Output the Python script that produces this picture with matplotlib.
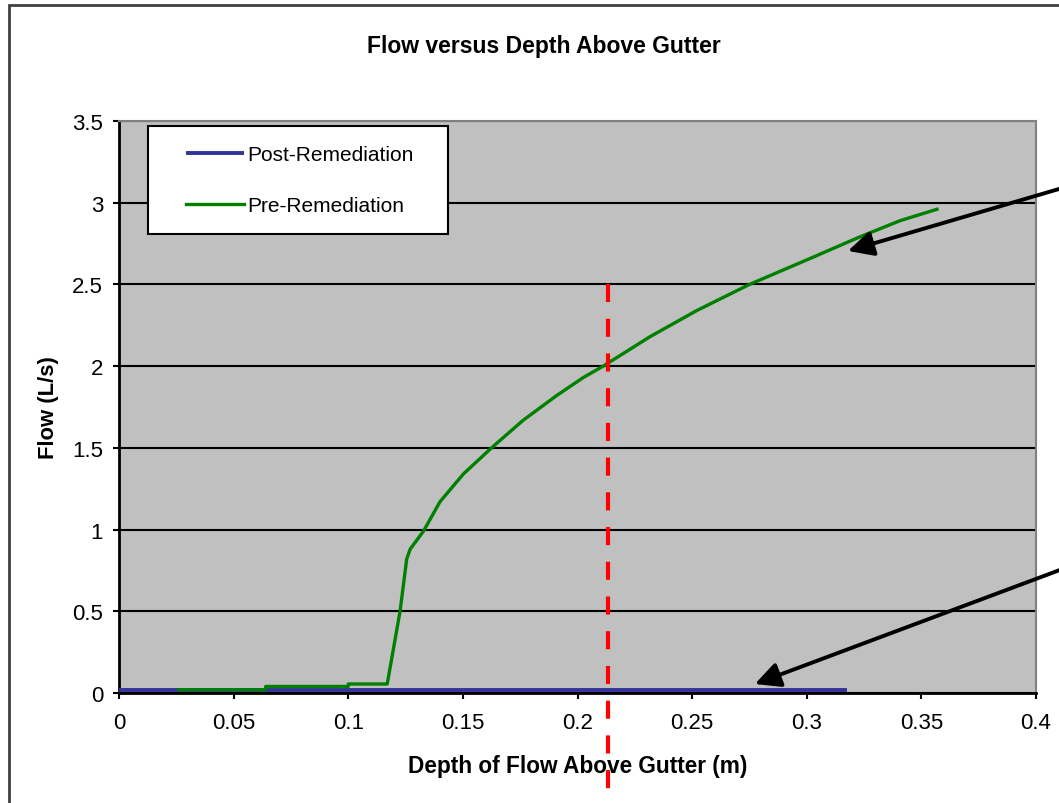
import numpy as np
import matplotlib
matplotlib.use("Agg")
import matplotlib.pyplot as plt
from matplotlib.patches import Rectangle
from matplotlib.legend_handler import HandlerLine2D

plt.rcParams['font.family'] = ['Liberation Sans', 'DejaVu Sans']
plt.rcParams['lines.scale_dashes'] = False

# data
post_depth = [0.0, 0.1, 0.2, 0.3176]
post_flow = [0.02, 0.02, 0.02, 0.02]

pre_depth = [0.026, 0.064, 0.064, 0.100, 0.100, 0.117, 0.1226, 0.1255, 0.127,
             0.1328, 0.140, 0.1502, 0.1633, 0.1764, 0.1909, 0.2025, 0.2112,
             0.2316, 0.252, 0.275, 0.300, 0.323, 0.3407, 0.3568]
pre_flow = [0.02, 0.02, 0.04, 0.04, 0.055, 0.055, 0.50, 0.82, 0.88,
            0.99, 1.17, 1.34, 1.51, 1.67, 1.82, 1.93, 2.00,
            2.18, 2.34, 2.50, 2.65, 2.79, 2.89, 2.96]

critical_depth = 0.2133
x_ticks = [0, 0.05, 0.1, 0.15, 0.2, 0.25, 0.3, 0.35, 0.4]
x_ticklabels = ['0', '0.05', '0.1', '0.15', '0.2', '0.25', '0.3', '0.35', '0.4']
y_ticks = [0, 0.5, 1, 1.5, 2, 2.5, 3, 3.5]
y_ticklabels = ['0', '0.5', '1', '1.5', '2', '2.5', '3', '3.5']

# arrows: (tip, tail) in data units
arrow_pre = ((0.318, 2.705), (0.428, 3.158))
arrow_post = ((0.2774, 0.055), (0.428, 0.845))


class ShiftedLine(HandlerLine2D):
    # legend line starts a bit in from the box edge, like the Excel legend
    def get_xdata(self, legend, xdescent, ydescent, width, height, fontsize):
        xd = np.array([-xdescent + 0.93 * fontsize, width - xdescent])
        return xd, xd


fig = plt.figure(figsize=(10.59, 8.04), dpi=100)
ax = fig.add_axes([119/1059, 1 - 694/804, 917/1059, 572/804])
ax.set_facecolor('#c0c0c0')

ax.plot(post_depth, post_flow, color='#333399', lw=2.8, label='Post-Remediation',
        solid_capstyle='butt', zorder=3)
ax.plot(pre_depth, pre_flow, color='#008000', lw=2.4, label='Pre-Remediation', zorder=4)

ax.set_xlim(0, 0.4)
ax.set_ylim(0, 3.5)
ax.set_xticks(x_ticks)
ax.set_xticklabels(x_ticklabels)
ax.set_yticks(y_ticks)
ax.set_yticklabels(y_ticklabels)
ax.tick_params(axis='both', direction='out', length=4.5, width=1.5, labelsize=16)
ax.tick_params(axis='y', pad=7)
ax.tick_params(axis='x', pad=9)
ax.grid(axis='y', color='black', lw=1.5)
ax.set_axisbelow(True)

for s in ['left', 'bottom']:
    ax.spines[s].set_color('black')
    ax.spines[s].set_linewidth(2)
for s in ['top', 'right']:
    ax.spines[s].set_color('#808080')
    ax.spines[s].set_linewidth(1.5)

ax.set_xlabel('Depth of Flow Above Gutter (m)', fontsize=16.3, fontweight='bold')
ax.xaxis.set_label_coords(0.5, -0.106)
ax.set_ylabel('Flow (L/s)', fontsize=15.8, fontweight='bold')
ax.yaxis.set_label_coords(-0.065, 0.5)

fig.text(543.5/1059, 1 - 46/804, 'Flow versus Depth Above Gutter', fontsize=16.5,
         fontweight='bold', ha='center', va='center')

# red dashed depth marker running down past the axis
ax.plot([critical_depth, critical_depth], [2.5, -0.59], color='#ff0000', lw=3,
        dashes=(13, 12), clip_on=False, zorder=10)

for tip, tail in [arrow_pre, arrow_post]:
    ax.annotate('', xy=tip, xytext=tail, annotation_clip=False,
                arrowprops=dict(arrowstyle='-|>', color='black', lw=2.8,
                                mutation_scale=38, shrinkA=0, shrinkB=0),
                zorder=6)

leg = ax.legend(loc='upper left', bbox_to_anchor=(0.0316, 0.804, 0.3276, 0.187),
                mode='expand', fontsize=15, frameon=True, fancybox=False,
                framealpha=1, edgecolor='black', handlelength=2.8 + 0.93,
                handletextpad=0.12, labelspacing=1.55, borderpad=0.9,
                borderaxespad=0, handler_map={plt.Line2D: ShiftedLine()})
leg.get_frame().set_linewidth(1.5)

# outer chart frame (cropped on right and bottom)
fig.add_artist(Rectangle((9/1059, -0.05), 1.1, 1 - 6/804 + 0.05,
                         transform=fig.transFigure, fill=False,
                         edgecolor='#404040', lw=2))

fig.savefig('out.png', dpi=100)
